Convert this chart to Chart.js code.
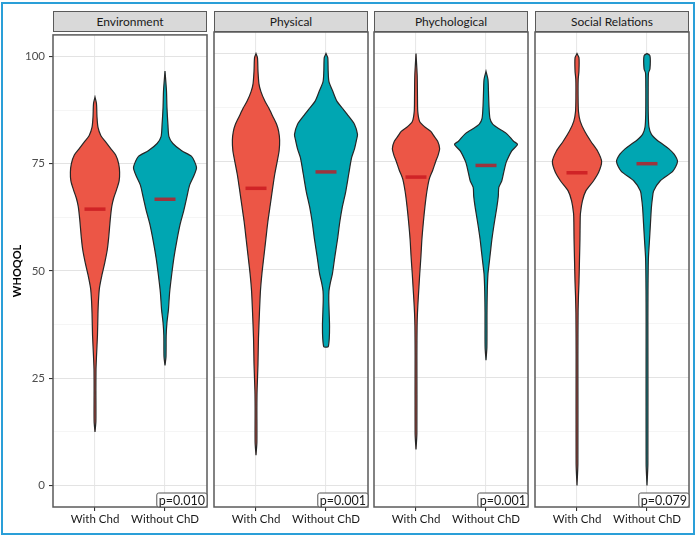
<!DOCTYPE html>
<html>
<head>
<meta charset="utf-8">
<script src="https://cdn.jsdelivr.net/npm/chart.js@4.4.1/dist/chart.umd.min.js"></script>
<style>
  body { margin: 0; background: #fff; font-family: Lato, sans-serif; }
  #frame { position: absolute; left: 1px; top: 2px; width: 694px; height: 533px; border: 2px solid #2a9fd8; box-sizing: border-box; }
  .strip { position: absolute; top: 11px; height: 21px; width: 154px; box-sizing: border-box; background: #d9d9d9; border: 1px solid #5a5a5a; color: #1a1a1a; font-size: 12px; line-height: 19px; text-align: center; }
  canvas { position: absolute; }
</style>
</head>
<body>
<div id="frame"></div>
<script>
// facetes, groupes et étiquettes
const facets = ['Environment', 'Physical', 'Phychological', 'Social Relations'];
const groups = ['With Chd', 'Without ChD'];
const pValues = ['p=0.010', 'p=0.001', 'p=0.001', 'p=0.079'];
const yTicks = [0, 25, 50, 75, 100];
const medianWith = [64.4, 68.8, 71.4, 72.4];
const medianWithout = [66.7, 72.6, 74.1, 74.5];

// contours des violons: [score, densité relative]
const envWith = [[12.5,0],[15,0.9],[22,0.9],[27,1],[30,1.5],[35,2.5],[40,3],[43,3.5],[46,4.5],[49,7],[52,10],[55,12.5],[58,14],[62,15.5],[65,17],[67,19],[69,22],[71,24.5],[73,25],[75,24],[77,21],[78.5,16],[80,11],[81.5,6],[83.5,3],[86,2],[89,1.5],[90.5,0]];
const envWithout = [[28,0],[30,1],[35,1.2],[38,2],[41,3.5],[45,4.7],[49,6.7],[53,9],[57,12],[61,15.5],[64,19],[67,22],[70,25],[72,29],[74,32],[75.5,30],[76.7,27],[78,17],[79.7,8],[81.3,4],[84,3],[88,2],[92,1.5],[96.6,0]];
const physWith = [[7,0],[10,0.9],[18,0.9],[22,1.1],[28,2],[34,2.5],[40,3.5],[45,4.5],[49,6],[53,8],[57,10],[61,12],[65,14.5],[69,17],[72,19],[75,21.5],[77.5,23.5],[80,24],[82,23],[83.6,21],[85.5,17],[87.4,13],[89,9],[91.2,5],[93,3],[96,2],[99,1.5],[100,0]];
const physWithout = [[32,0],[32.1,2.2],[34,3.3],[37,3.6],[40,3.2],[43,2.8],[45,3],[47,4.5],[49,6.5],[53,9],[57,11.7],[61,14],[64.4,16.5],[68,20],[72,23],[75.9,26],[78,29],[80,31],[81.3,32],[83.6,29],[85.5,23],[87.4,16.5],[89,11],[91.2,7],[93.5,3],[96,2.2],[99,1.8],[100,0]];
const psyWith = [[8.3,0],[12,0.9],[30,0.9],[37,1.1],[40,1.5],[43,2.2],[46,3],[49,3.8],[53,5],[57,6],[61,7.5],[64.4,9],[68,11],[71,13.5],[73,17],[75,20],[76.5,22.5],[78,24],[79.7,22],[81,18],[82,15],[83,9],[84.3,3.7],[86.6,1.8],[90,1.5],[95,1.2],[100,0]];
const psyWithout = [[29,0],[32,0.9],[40,1],[45,1.3],[49,2],[51,3],[54,4.5],[57,6],[60.6,8.3],[64.4,11],[67,12.5],[69,13],[70.5,16],[72,17.5],[74,19.5],[75.1,21],[77.4,26],[79,32],[79.7,28],[81.3,21.7],[82.5,14],[83.6,7],[85,4],[88,3],[91.2,2.5],[94,2],[95.9,0]];
const socWith = [[0,0],[5,0.9],[30,0.9],[40,1.1],[44,1.5],[47,2],[52,2.5],[57,3],[61,3.2],[63,3.5],[65.9,5.5],[68.2,9],[70.5,16.7],[72.5,22],[75,25],[77.4,21],[79.7,14],[82,7.8],[84.3,3.3],[86.6,1.5],[90,1.1],[94,1.2],[96,2],[99,2],[100,0]];
const socWithout = [[0,0],[5,0.9],[38,0.9],[45,1],[50,1.2],[53,1.5],[56.7,2.5],[60.6,3.5],[64.4,4.5],[66.5,5.5],[68.2,6.7],[70.5,13.3],[72.8,26.3],[75,31],[76.7,27.5],[78,22],[79,16],[80,10],[81.3,4.5],[83,2],[86,1.3],[92,1.2],[95.5,1.5],[96.5,3],[99.5,3],[100,0]];

const violinsWith = [envWith, physWith, psyWith, socWith];
const violinsWithout = [envWithout, physWithout, psyWithout, socWithout];

const RED = '#EC5646';
const TEAL = '#00A6B2';
const DENS_TO_X = 0.45 / 32;   // le violon le plus large fait 0.9 catégorie
const panelLeft = [53, 214, 374, 535];
const PANEL_W = 154;
const Y_AXIS_W = 49;
const FONT = 'Lato, sans-serif';

// grille mineure entre les graduations
const gridValues = [];
yTicks.forEach((v, i) => {
    gridValues.push(v);
    if (i < yTicks.length - 1) gridValues.push((v + yTicks[i + 1]) / 2);
});

function violin(profile, centre, colour) {
    const right = profile.map(([y, d]) => ({ x: centre + d * DENS_TO_X, y }));
    const left = profile.slice().reverse().map(([y, d]) => ({ x: centre - d * DENS_TO_X, y }));
    return {
        data: right.concat(left, [right[0]]),
        fill: 'shape',
        backgroundColor: colour,
        borderColor: '#262626',
        borderWidth: 1.2,
        tension: 0.25,
        pointRadius: 0,
        order: 1
    };
}

function median(value, centre) {
    return {
        data: [{ x: centre - 0.15, y: value }, { x: centre + 0.15, y: value }],
        borderColor: 'rgba(200,20,30,0.78)',
        borderWidth: 3.5,
        borderCapStyle: 'butt',
        pointRadius: 0,
        fill: false,
        order: 0
    };
}

// cadre du panneau + étiquette p
const panelBox = {
    id: 'panelBox',
    afterDatasetsDraw(chart, args, opts) {
        const { ctx, chartArea: a } = chart;
        ctx.save();
        ctx.strokeStyle = '#5a5a5a';
        ctx.lineWidth = 1.5;
        ctx.strokeRect(a.left, a.top, a.right - a.left, a.bottom - a.top);

        ctx.font = '12.5px ' + FONT;
        const w = ctx.measureText(opts.text).width + 4;
        const h = 14;
        const x = a.right - w;
        const y = a.bottom - h;
        ctx.beginPath();
        ctx.roundRect(x, y, w, h, 2);
        ctx.fillStyle = '#fff';
        ctx.fill();
        ctx.lineWidth = 1;
        ctx.strokeStyle = '#555';
        ctx.stroke();
        ctx.fillStyle = '#1a1a1a';
        ctx.textBaseline = 'middle';
        ctx.fillText(opts.text, x + 2, y + h / 2 + 0.5);
        ctx.restore();
    }
};

facets.forEach((name, i) => {
    const first = i === 0;

    const strip = document.createElement('div');
    strip.className = 'strip';
    strip.style.left = panelLeft[i] + 'px';
    strip.textContent = name;
    document.body.appendChild(strip);

    const canvas = document.createElement('canvas');
    const width = first ? Y_AXIS_W + PANEL_W + 2 : PANEL_W + 4;
    canvas.width = width;
    canvas.height = 511;
    canvas.style.left = (first ? panelLeft[i] - Y_AXIS_W : panelLeft[i] - 2) + 'px';
    canvas.style.top = '24px';
    document.body.appendChild(canvas);

    new Chart(canvas, {
        type: 'line',
        data: {
            datasets: [
                violin(violinsWith[i], 1, RED),
                violin(violinsWithout[i], 2, TEAL),
                median(medianWith[i], 1),
                median(medianWithout[i], 2)
            ]
        },
        plugins: [panelBox],
        options: {
            responsive: false,
            animation: false,
            events: [],
            layout: { padding: { left: first ? 0 : 2, right: 2, top: 8, bottom: 0 } },
            plugins: {
                legend: { display: false },
                tooltip: { enabled: false },
                panelBox: { text: pValues[i] }
            },
            scales: {
                x: {
                    type: 'linear',
                    min: 0.4,
                    max: 2.6,
                    afterBuildTicks: s => { s.ticks = [{ value: 1 }, { value: 2 }]; },
                    afterFit: s => { s.height = 28; },
                    grid: { color: '#e8e8e8', lineWidth: 1.1, tickColor: '#333', tickLength: 4 },
                    border: { display: false },
                    ticks: {
                        callback: v => groups[v - 1],
                        font: { family: FONT, size: 11.5 },
                        color: '#1a1a1a',
                        padding: 1,
                        maxRotation: 0,
                        autoSkip: false
                    }
                },
                y: {
                    type: 'linear',
                    min: -5,
                    max: 105,
                    afterBuildTicks: s => { s.ticks = gridValues.map(v => ({ value: v })); },
                    afterFit: s => { s.width = first ? Y_AXIS_W : 0; },
                    grid: {
                        color: c => yTicks.includes(c.tick.value) ? '#e3e3e3' : '#f1f1f1',
                        lineWidth: c => yTicks.includes(c.tick.value) ? 1.1 : 0.7,
                        tickColor: c => (first && yTicks.includes(c.tick.value)) ? '#333' : 'rgba(0,0,0,0)',
                        drawTicks: first,
                        tickLength: 4
                    },
                    border: { display: false },
                    ticks: {
                        display: first,
                        callback: v => yTicks.includes(v) ? String(v) : '',
                        font: { family: FONT, size: 11.5 },
                        color: '#4d4d4d',
                        padding: 4
                    },
                    title: {
                        display: first,
                        text: 'WHOQOL',
                        font: { family: FONT, size: 11, weight: 'bold' },
                        color: '#000',
                        padding: { top: 7, bottom: 0 }
                    }
                }
            }
        }
    });
});
</script>
</body>
</html>
